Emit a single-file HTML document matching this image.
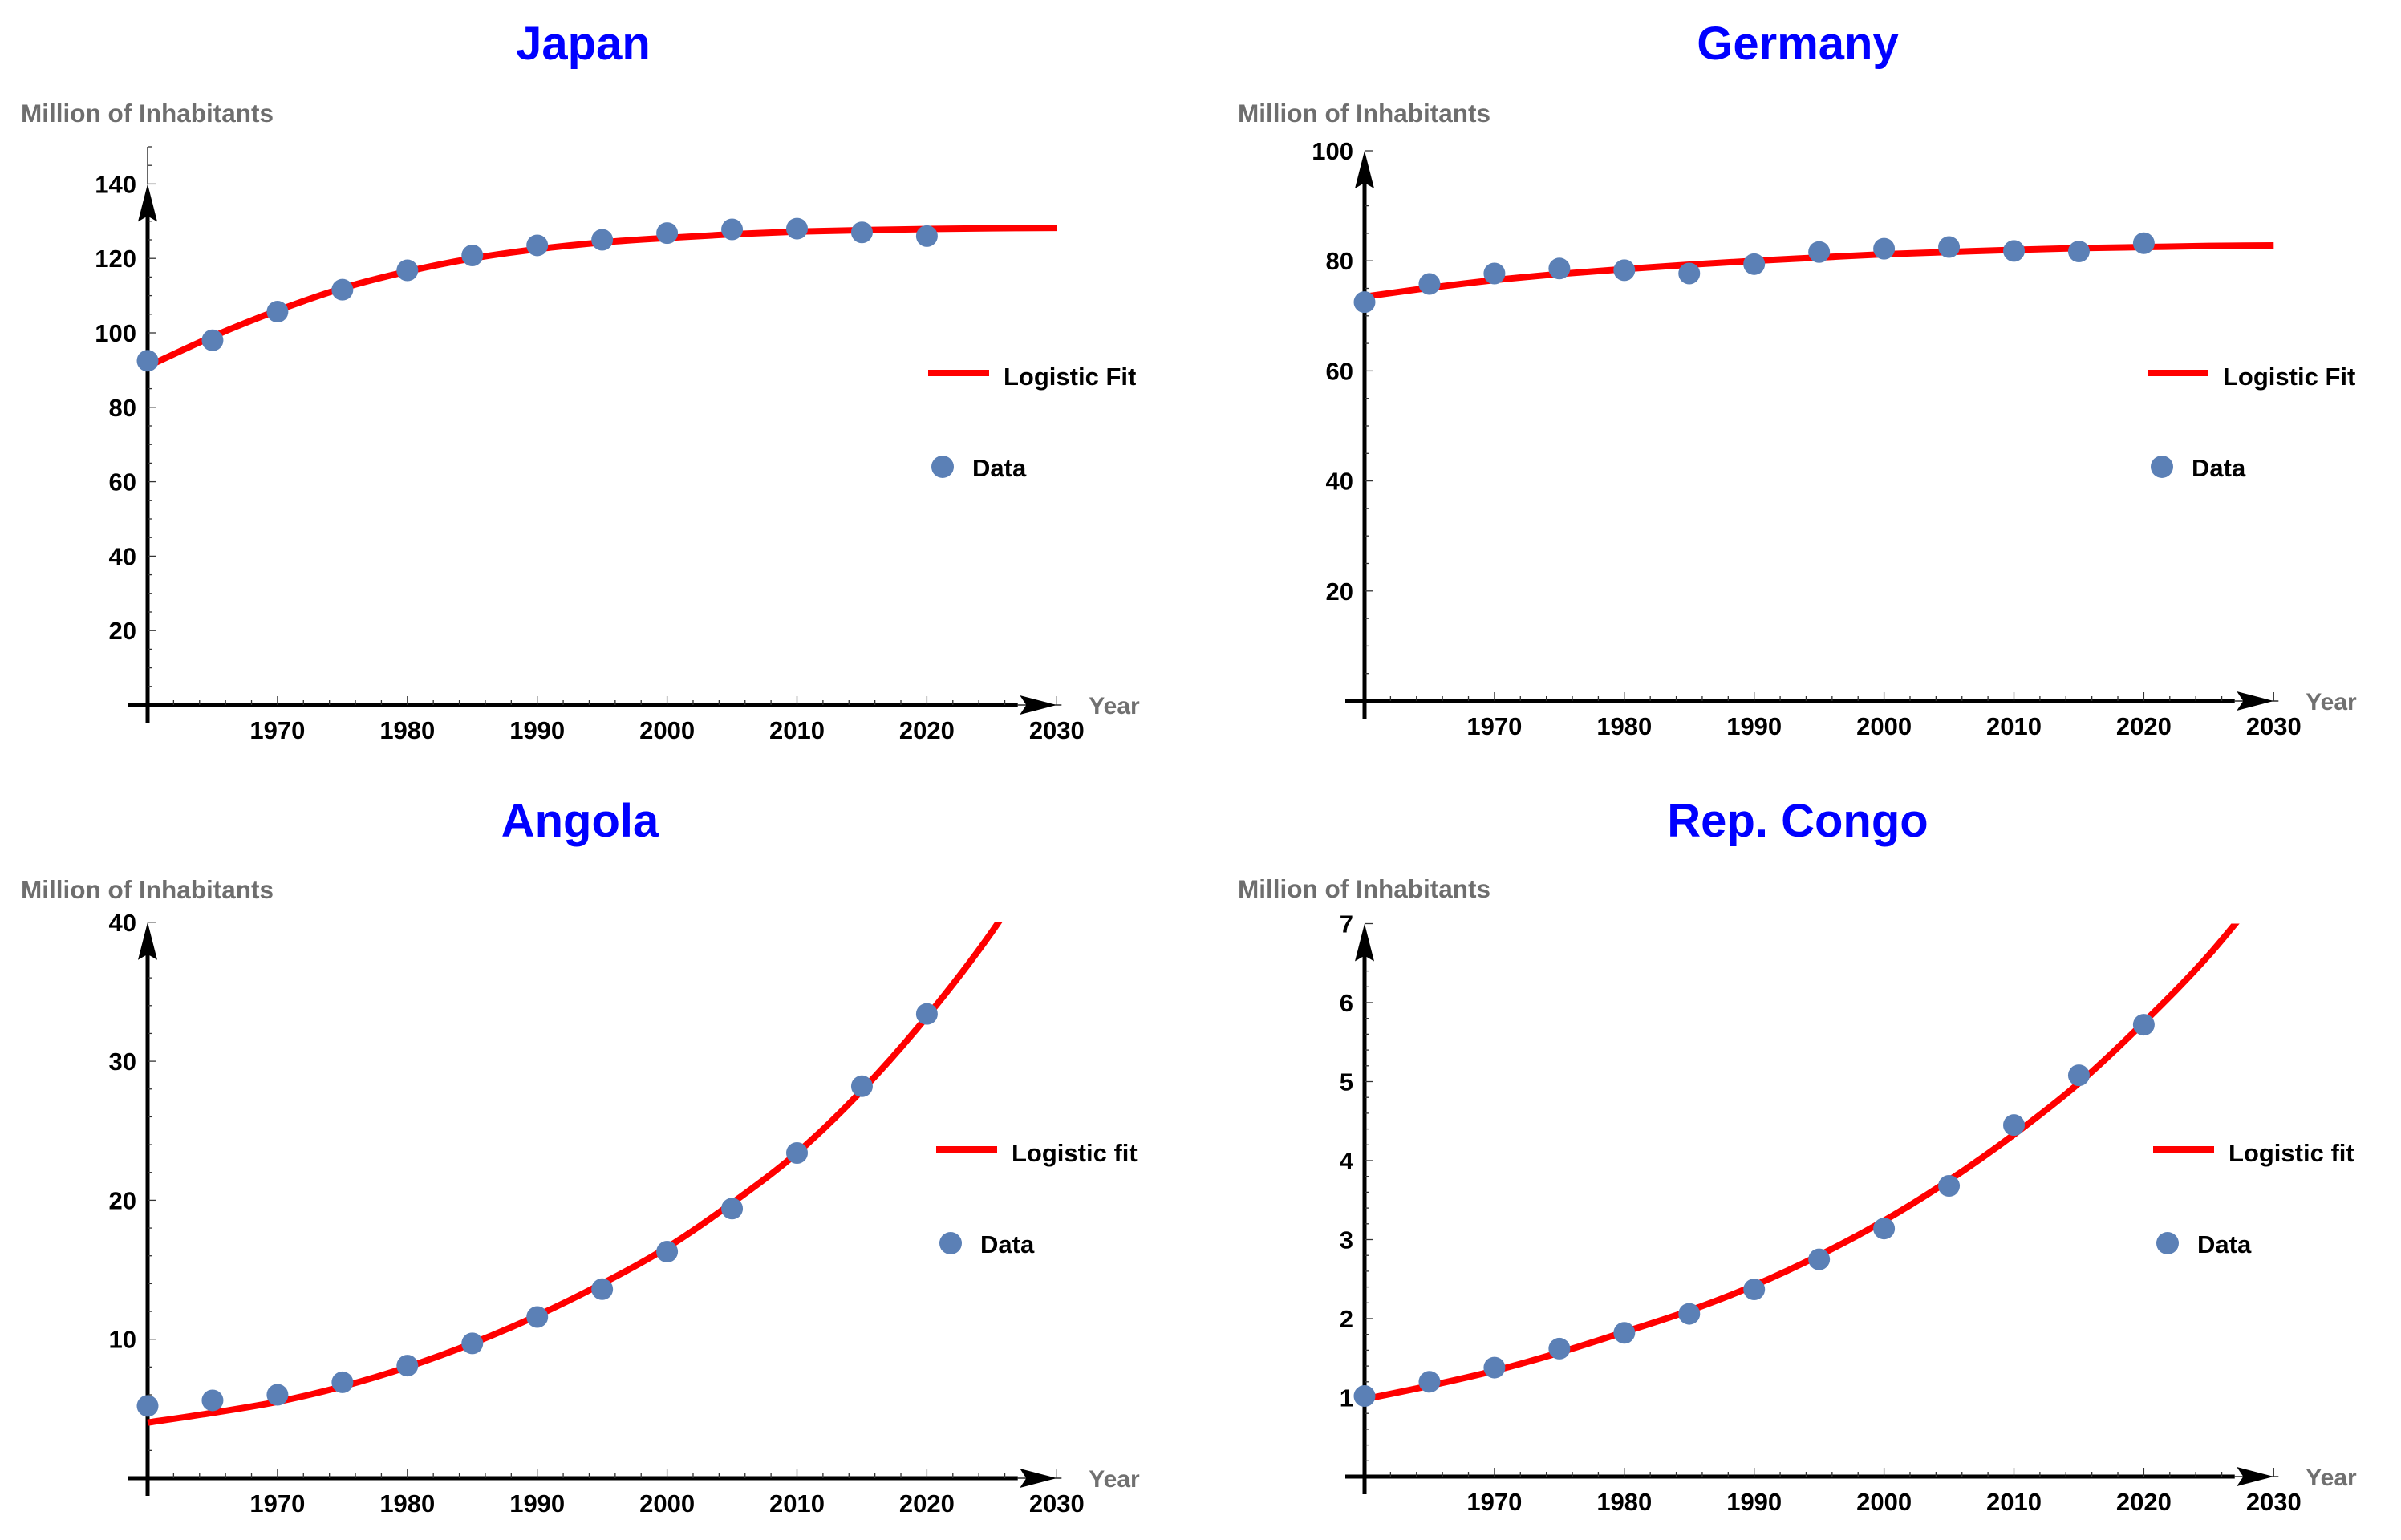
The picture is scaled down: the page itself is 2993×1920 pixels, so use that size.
<!DOCTYPE html>
<html><head><meta charset="utf-8"><style>
html,body{margin:0;padding:0;background:#fff;}
svg{display:block;font-family:"Liberation Sans",Arial,sans-serif;font-weight:bold;}
</style></head><body>
<svg id="chart" width="2993" height="1920" viewBox="0 0 2993 1920" xmlns="http://www.w3.org/2000/svg"></svg>
<script>
const dataYears = [1960,1965,1970,1975,1980,1985,1990,1995,2000,2005,2010,2015,2020];
const fitYears = [1960,1965,1970,1975,1980,1985,1990,1995,2000,2005,2010,2015,2020,2025,2030];
const japanData = [92.5,98,105.7,111.6,116.8,120.8,123.5,125,126.8,127.8,128,127,126];
const japanFit = [91,99,106,112,116.5,120,122.5,124.3,125.5,126.5,127.2,127.6,127.9,128.1,128.2];
const germanyData = [72.5,75.8,77.7,78.6,78.3,77.7,79.4,81.6,82.2,82.5,81.8,81.7,83.2];
const germanyFit = [73.5,75.1,76.5,77.6,78.5,79.3,80,80.6,81.2,81.6,82,82.3,82.5,82.7,82.8];
const angolaData = [5.2,5.6,6.0,6.9,8.1,9.7,11.6,13.6,16.3,19.4,23.4,28.2,33.4];
const angolaFit = [4.0,4.7,5.5,6.6,8.0,9.7,11.7,14.0,16.6,19.8,23.4,27.9,33.2,39.3,46.5];
const congoData = [1.02,1.2,1.38,1.62,1.82,2.06,2.37,2.75,3.14,3.68,4.45,5.08,5.72];
const congoFit = [0.98,1.15,1.34,1.57,1.83,2.1,2.42,2.8,3.24,3.75,4.33,4.98,5.75,6.6,7.6];
const xTickLabels = [1970,1980,1990,2000,2010,2020,2030];
const japanYTicks = [20,40,60,80,100,120,140];
const germanyYTicks = [20,40,60,80,100];
const angolaYTicks = [10,20,30,40];
const congoYTicks = [1,2,3,4,5,6,7];

const NS='http://www.w3.org/2000/svg';
const svg=document.getElementById('chart');
function mk(tag,attrs,parent){const e=document.createElementNS(NS,tag);for(const k in attrs)e.setAttribute(k,attrs[k]);(parent||svg).appendChild(e);return e;}

const panels=[
 {key:'japan',title:'Japan',tx:727,ty:74,ax:184,ay:879,ys:4.64,ymax:150,arrowV:140,minor:5,data:japanData,fit:japanFit,ticks:japanYTicks,lx:1157,ly:465,fitLabel:'Logistic Fit',clip:150,tl:727},
 {key:'germany',title:'Germany',tx:2241,ty:74,ax:1701,ay:874,ys:6.86,ymax:100,arrowV:100,minor:5,data:germanyData,fit:germanyFit,ticks:germanyYTicks,lx:2677,ly:465,fitLabel:'Logistic Fit',clip:100,tl:722},
 {key:'angola',title:'Angola',tx:723,ty:1043,ax:184,ay:1843,ys:17.33,ymax:40,arrowV:40,minor:2,data:angolaData,fit:angolaFit,ticks:angolaYTicks,lx:1167,ly:1433,fitLabel:'Logistic fit',clip:40,tl:723},
 {key:'congo',title:'Rep. Congo',tx:2241,ty:1043,ax:1701,ay:1841,ys:98.5,ymax:7,arrowV:7,minor:0.2,data:congoData,fit:congoFit,ticks:congoYTicks,lx:2684,ly:1433,fitLabel:'Logistic fit',clip:7,tl:722}
];
const PX_YEAR=16.19;

panels.forEach(p=>{
 const g=mk('g',{});
 
 
 const X=y=>p.ax+(y-1960)*PX_YEAR;
 const Y=v=>p.ay-v*p.ys;
 const t=mk('text',{x:p.tx,y:p.ty,'text-anchor':'middle','font-size':58,fill:'#0000ff'},g);t.textContent=p.title;
 
 
 const yl=mk('text',{x:p.ax-158,y:p.ay-p.tl,'font-size':31.5,fill:'#6e6e6e'},g);yl.textContent='Million of Inhabitants';
 
 
 const xa=mk('line',{x1:p.ax-24,y1:p.ay,x2:X(2027),y2:p.ay,stroke:'#000','stroke-width':5},g);
 
 
 mk('line',{x1:X(2027),y1:p.ay,x2:X(2030)+6,y2:p.ay,stroke:'#000','stroke-width':1.2},g);
 for(let yr=1962;yr<=2030;yr+=2){const maj=yr%10===0;mk('line',{x1:X(yr),y1:p.ay,x2:X(yr),y2:p.ay-(maj?11:6),stroke:'#333','stroke-width':1.3},g);}
 mk('path',{d:`M${X(2030)},${p.ay} L${X(2030)-46},${p.ay-12} L${X(2030)-38},${p.ay} L${X(2030)-46},${p.ay+12} Z`,fill:'#000'},g);
 xTickLabels.forEach(v=>{const e=mk('text',{x:X(v),y:p.ay+42,'text-anchor':'middle','font-size':31,fill:'#000'},g);e.textContent=v;
  
  });
 const yr=mk('text',{x:X(2030)+40,y:p.ay+11,'font-size':30,fill:'#707070'},g);yr.textContent='Year';
 
 
 const ya=mk('line',{x1:p.ax,y1:p.ay+22,x2:p.ax,y2:Y(p.arrowV)+40,stroke:'#000','stroke-width':5},g);
 
 
 mk('line',{x1:p.ax,y1:Y(p.arrowV),x2:p.ax,y2:Y(p.ymax),stroke:'#000','stroke-width':1.2},g);
 for(let v=p.minor;v<=p.ymax+1e-9;v+=p.minor){const maj=p.ticks.some(tk=>Math.abs(tk-v)<1e-6);mk('line',{x1:p.ax,y1:Y(v),x2:p.ax+(maj?10:5),y2:Y(v),stroke:'#333','stroke-width':1.3},g);}
 const tip=Y(p.arrowV);
 mk('path',{d:`M${p.ax},${tip} L${p.ax-12},${tip+47} L${p.ax},${tip+40} L${p.ax+12},${tip+47} Z`,fill:'#000'},g);
 p.ticks.forEach(v=>{const e=mk('text',{x:p.ax-14,y:Y(v)+11,'text-anchor':'end','font-size':31,fill:'#000'},g);e.textContent=v;
  
  });
 const cid='clip-'+p.key;
 const cp=mk('clipPath',{id:cid},g);mk('rect',{x:p.ax-30,y:Y(p.clip),width:1400,height:p.clip*p.ys+40},cp);
 const pts=fitYears.map((y,i)=>[X(y),Y(p.fit[i])]);
 let d=`M${pts[0][0]},${pts[0][1]}`;
 for(let i=0;i<pts.length-1;i++){const p0=pts[Math.max(0,i-1)],p1=pts[i],p2=pts[i+1],p3=pts[Math.min(pts.length-1,i+2)];
  d+=` C${p1[0]+(p2[0]-p0[0])/6},${p1[1]+(p2[1]-p0[1])/6} ${p2[0]-(p3[0]-p1[0])/6},${p2[1]-(p3[1]-p1[1])/6} ${p2[0]},${p2[1]}`;}
 const fl=mk('path',{d:d,fill:'none',stroke:'#ff0000','stroke-width':8,'clip-path':`url(#${cid})`},g);
 
 
 dataYears.forEach((y,i)=>{const c=mk('circle',{cx:X(y),cy:Y(p.data[i]),r:13.5,fill:'#5b80b6'},g);
  
  });
 const lg=mk('g',{},g);
 
 
 mk('line',{x1:p.lx,y1:p.ly,x2:p.lx+76,y2:p.ly,stroke:'#ff0000','stroke-width':8},lg);
 const l1=mk('text',{x:p.lx+94,y:p.ly+15,'font-size':31,fill:'#000'},lg);l1.textContent=p.fitLabel;
 
 
 mk('circle',{cx:p.lx+18,cy:p.ly+117,r:14,fill:'#5b80b6'},lg);
 const l2=mk('text',{x:p.lx+55,y:p.ly+129,'font-size':31,fill:'#000'},lg);l2.textContent='Data';
 
 
});
</script>
</body></html>
